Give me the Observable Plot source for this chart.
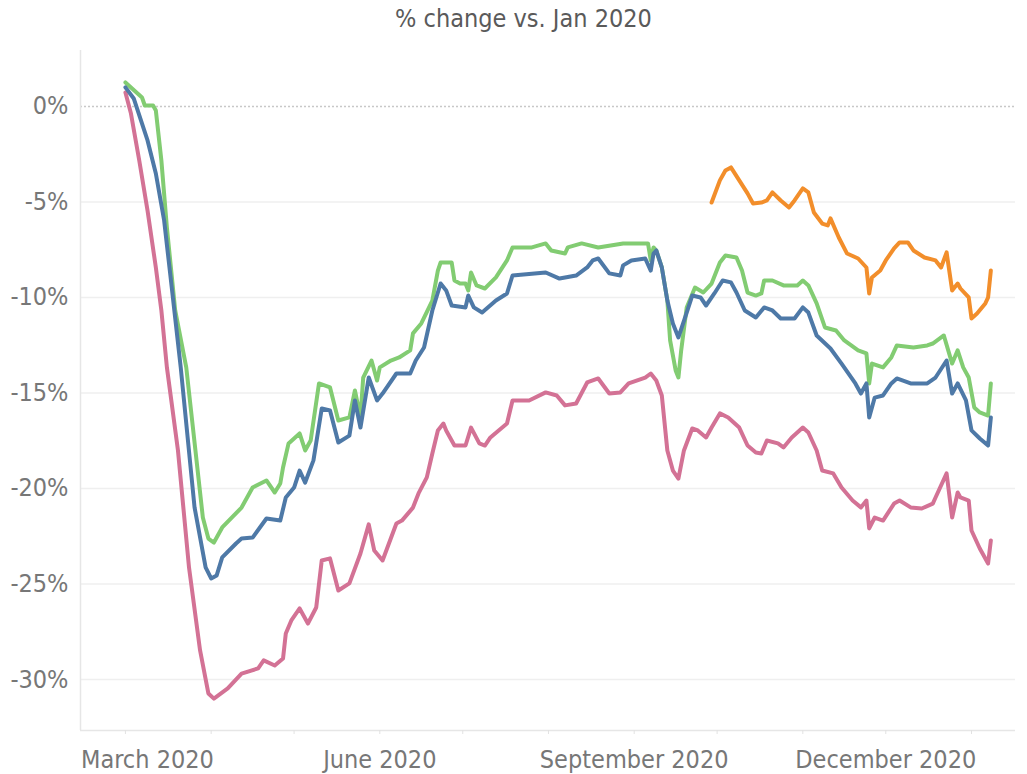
<!DOCTYPE html>
<html>
<head>
<meta charset="utf-8">
<script src="https://cdn.jsdelivr.net/npm/d3@7"></script>
<script src="https://cdn.jsdelivr.net/npm/@observablehq/plot@0.6"></script>
<style>
  html, body { margin: 0; padding: 0; background: #fff; }
  body { font-family: "DejaVu Sans Condensed", "DejaVu Sans", sans-serif; font-stretch: condensed; }
  #title { height: 40px; line-height: 38px; text-align: center; font-size: 25px; color: #5a5a5a; padding-left: 20px; box-sizing: border-box; width: 1027px; }
</style>
</head>
<body>
<div id="title">% change vs. Jan 2020</div>
<div id="chart"></div>
<script>
// ---- Data ----
const seriesNames = ["Group A", "Group B", "Group C", "Group D"];
const seriesColors = ["#d37295", "#82cc72", "#4e79a7", "#f28e2b"];

const pinkDates = ["2020-03-01","2020-03-03","2020-03-06","2020-03-09","2020-03-12","2020-03-14","2020-03-16","2020-03-20","2020-03-24","2020-03-28","2020-03-31","2020-04-02","2020-04-07","2020-04-12","2020-04-18","2020-04-20","2020-04-24","2020-04-27","2020-04-28","2020-04-30","2020-05-03","2020-05-06","2020-05-09","2020-05-11","2020-05-14","2020-05-17","2020-05-21","2020-05-25","2020-05-28","2020-05-30","2020-06-02","2020-06-07","2020-06-09","2020-06-13","2020-06-15","2020-06-18","2020-06-20","2020-06-22","2020-06-24","2020-06-25","2020-06-28","2020-07-02","2020-07-04","2020-07-07","2020-07-09","2020-07-11","2020-07-14","2020-07-17","2020-07-19","2020-07-25","2020-07-31","2020-08-04","2020-08-07","2020-08-11","2020-08-15","2020-08-19","2020-08-23","2020-08-27","2020-08-30","2020-09-05","2020-09-07","2020-09-09","2020-09-11","2020-09-13","2020-09-15","2020-09-17","2020-09-19","2020-09-22","2020-09-24","2020-09-27","2020-09-29","2020-10-02","2020-10-05","2020-10-09","2020-10-12","2020-10-15","2020-10-17","2020-10-19","2020-10-23","2020-10-25","2020-10-28","2020-10-30","2020-11-01","2020-11-03","2020-11-06","2020-11-08","2020-11-12","2020-11-15","2020-11-19","2020-11-22","2020-11-24","2020-11-25","2020-11-27","2020-11-30","2020-12-04","2020-12-06","2020-12-10","2020-12-14","2020-12-18","2020-12-19","2020-12-23","2020-12-25","2020-12-27","2020-12-28","2020-12-31","2021-01-01","2021-01-04","2021-01-07","2021-01-08"];
const pinkValues = [0.73,-0.37,-2.83,-5.45,-8.43,-10.68,-13.66,-18.01,-24.14,-28.48,-30.73,-31.0,-30.47,-29.69,-29.42,-29.0,-29.27,-28.9,-27.59,-26.91,-26.28,-27.07,-26.23,-23.77,-23.66,-25.34,-24.97,-23.4,-21.88,-23.25,-23.77,-21.83,-21.68,-21.0,-20.26,-19.42,-18.17,-16.96,-16.6,-16.96,-17.75,-17.75,-16.81,-17.64,-17.75,-17.33,-16.96,-16.6,-15.39,-15.39,-14.97,-15.13,-15.65,-15.55,-14.45,-14.24,-15.03,-14.97,-14.5,-14.19,-13.98,-14.35,-15.13,-18.01,-19.06,-19.48,-18.01,-16.86,-16.96,-17.33,-16.81,-16.07,-16.28,-16.81,-17.75,-18.12,-18.17,-17.49,-17.64,-17.85,-17.33,-17.07,-16.81,-17.07,-18.01,-19.06,-19.21,-19.95,-20.63,-20.99,-20.63,-22.09,-21.52,-21.68,-20.79,-20.63,-20.99,-21.05,-20.79,-20.47,-19.21,-21.52,-20.21,-20.47,-20.63,-22.2,-23.14,-23.93,-22.72];

const greenDates = ["2020-03-01","2020-03-07","2020-03-08","2020-03-11","2020-03-12","2020-03-14","2020-03-16","2020-03-19","2020-03-23","2020-03-29","2020-03-31","2020-04-02","2020-04-05","2020-04-12","2020-04-16","2020-04-21","2020-04-24","2020-04-26","2020-04-27","2020-04-29","2020-05-03","2020-05-05","2020-05-07","2020-05-10","2020-05-14","2020-05-17","2020-05-21","2020-05-23","2020-05-25","2020-05-26","2020-05-29","2020-05-31","2020-06-01","2020-06-05","2020-06-08","2020-06-12","2020-06-13","2020-06-16","2020-06-20","2020-06-22","2020-06-23","2020-06-27","2020-06-28","2020-06-30","2020-07-02","2020-07-03","2020-07-04","2020-07-06","2020-07-09","2020-07-13","2020-07-17","2020-07-19","2020-07-26","2020-07-31","2020-08-02","2020-08-07","2020-08-08","2020-08-13","2020-08-19","2020-08-28","2020-09-06","2020-09-07","2020-09-08","2020-09-09","2020-09-11","2020-09-13","2020-09-14","2020-09-16","2020-09-17","2020-09-18","2020-09-20","2020-09-23","2020-09-26","2020-09-29","2020-10-02","2020-10-04","2020-10-08","2020-10-10","2020-10-12","2020-10-15","2020-10-17","2020-10-18","2020-10-21","2020-10-25","2020-10-30","2020-11-01","2020-11-03","2020-11-06","2020-11-09","2020-11-13","2020-11-16","2020-11-21","2020-11-24","2020-11-25","2020-11-26","2020-11-30","2020-12-03","2020-12-05","2020-12-11","2020-12-16","2020-12-18","2020-12-22","2020-12-25","2020-12-27","2020-12-29","2020-12-31","2021-01-02","2021-01-04","2021-01-07","2021-01-08"];
const greenValues = [1.26,0.47,0.05,0.05,-0.21,-2.83,-6.34,-10.68,-13.66,-21.52,-22.62,-22.83,-22.04,-21.0,-19.95,-19.58,-20.21,-19.74,-18.9,-17.64,-17.12,-18.01,-17.49,-14.5,-14.71,-16.44,-16.28,-14.87,-16.28,-14.19,-13.3,-14.35,-13.66,-13.3,-13.14,-12.77,-11.88,-11.36,-10.16,-8.59,-8.17,-8.17,-9.11,-9.27,-9.27,-9.63,-8.69,-9.37,-9.53,-8.95,-8.06,-7.38,-7.38,-7.17,-7.54,-7.7,-7.38,-7.17,-7.38,-7.17,-7.17,-8.06,-7.38,-7.54,-8.43,-10.16,-12.25,-13.82,-14.19,-12.77,-10.52,-9.48,-9.74,-9.27,-8.17,-7.8,-7.91,-8.59,-9.74,-9.9,-9.79,-9.11,-9.11,-9.37,-9.37,-9.11,-9.37,-10.31,-11.57,-11.73,-12.25,-12.77,-12.93,-14.5,-13.46,-13.66,-13.14,-12.51,-12.62,-12.51,-12.41,-11.99,-13.46,-12.77,-13.66,-14.19,-15.76,-16.02,-16.18,-14.5];

const blueDates = ["2020-03-01","2020-03-04","2020-03-09","2020-03-12","2020-03-15","2020-03-18","2020-03-21","2020-03-26","2020-03-30","2020-04-01","2020-04-03","2020-04-05","2020-04-10","2020-04-12","2020-04-16","2020-04-21","2020-04-26","2020-04-28","2020-05-01","2020-05-03","2020-05-05","2020-05-08","2020-05-11","2020-05-14","2020-05-17","2020-05-21","2020-05-23","2020-05-25","2020-05-28","2020-05-31","2020-06-02","2020-06-07","2020-06-12","2020-06-14","2020-06-17","2020-06-20","2020-06-23","2020-06-25","2020-06-27","2020-07-02","2020-07-03","2020-07-05","2020-07-08","2020-07-13","2020-07-17","2020-07-19","2020-07-31","2020-08-05","2020-08-11","2020-08-15","2020-08-17","2020-08-19","2020-08-23","2020-08-27","2020-08-28","2020-08-31","2020-09-05","2020-09-07","2020-09-08","2020-09-09","2020-09-11","2020-09-13","2020-09-15","2020-09-17","2020-09-20","2020-09-22","2020-09-25","2020-09-27","2020-09-30","2020-10-03","2020-10-06","2020-10-08","2020-10-11","2020-10-15","2020-10-18","2020-10-21","2020-10-24","2020-10-29","2020-11-01","2020-11-03","2020-11-06","2020-11-11","2020-11-15","2020-11-20","2020-11-22","2020-11-24","2020-11-25","2020-11-27","2020-11-30","2020-12-03","2020-12-05","2020-12-10","2020-12-16","2020-12-19","2020-12-23","2020-12-25","2020-12-27","2020-12-30","2021-01-01","2021-01-04","2021-01-07","2021-01-08"];
const blueValues = [1.0,0.42,-1.78,-3.51,-5.97,-9.79,-13.66,-20.99,-24.13,-24.71,-24.55,-23.61,-22.88,-22.62,-22.57,-21.57,-21.68,-20.47,-19.95,-19.06,-19.69,-18.53,-15.81,-15.92,-17.59,-17.23,-15.39,-16.81,-14.19,-15.39,-15.03,-13.98,-13.98,-13.3,-12.62,-10.68,-9.27,-9.63,-10.42,-10.52,-9.9,-10.52,-10.79,-10.16,-9.79,-8.85,-8.69,-9.01,-8.85,-8.43,-8.06,-7.96,-8.74,-8.85,-8.32,-8.06,-7.96,-8.59,-7.7,-7.54,-8.43,-10.16,-11.36,-12.09,-10.79,-9.9,-10.0,-10.42,-9.79,-9.11,-9.21,-9.74,-10.68,-11.05,-10.52,-10.68,-11.1,-11.1,-10.52,-10.79,-11.99,-12.67,-13.46,-14.5,-15.03,-14.5,-16.28,-15.24,-15.13,-14.5,-14.24,-14.5,-14.5,-14.19,-13.3,-15.03,-14.5,-15.39,-16.96,-17.38,-17.75,-16.28];

const orangeDates = ["2020-09-29","2020-10-02","2020-10-04","2020-10-06","2020-10-09","2020-10-12","2020-10-14","2020-10-17","2020-10-19","2020-10-21","2020-10-24","2020-10-27","2020-10-29","2020-11-01","2020-11-03","2020-11-05","2020-11-08","2020-11-10","2020-11-11","2020-11-14","2020-11-17","2020-11-21","2020-11-24","2020-11-25","2020-11-26","2020-11-29","2020-12-01","2020-12-04","2020-12-06","2020-12-09","2020-12-11","2020-12-15","2020-12-19","2020-12-21","2020-12-23","2020-12-25","2020-12-27","2020-12-28","2020-12-31","2021-01-01","2021-01-03","2021-01-06","2021-01-07","2021-01-08"];
const orangeValues = [-5.03,-3.87,-3.35,-3.19,-3.87,-4.55,-5.08,-5.03,-4.92,-4.5,-4.92,-5.29,-4.92,-4.29,-4.5,-5.55,-6.13,-6.23,-5.86,-6.86,-7.7,-7.96,-8.43,-9.79,-8.95,-8.59,-8.06,-7.43,-7.12,-7.12,-7.54,-7.91,-8.06,-8.43,-7.64,-9.63,-9.27,-9.53,-10.0,-11.1,-10.84,-10.31,-10.0,-8.59];

const yTicks = [0, -5, -10, -15, -20, -25, -30];
const monthTicks = ["2020-03-01","2020-04-01","2020-05-01","2020-06-01","2020-07-01","2020-08-01","2020-09-01","2020-10-01","2020-11-01","2020-12-01","2021-01-01"];
const labelTicks = ["2020-03-01","2020-06-01","2020-09-01","2020-12-01"];
const xDomain = ["2020-02-13T18:00:00Z", "2021-01-16T22:00:00Z"];
const yDomain = [-32.67, 2.93];

// ---- Build table ----
const allDates = [pinkDates, greenDates, blueDates, orangeDates];
const allValues = [pinkValues, greenValues, blueValues, orangeValues];
const rows = [];
allDates.forEach((ds, i) => ds.forEach((d, j) => rows.push({series: seriesNames[i], date: new Date(d), value: allValues[i][j]})));

const font = '"DejaVu Sans Condensed", "DejaVu Sans", sans-serif';
const fmt = d3.utcFormat("%B %Y");

const chart = Plot.plot({
  width: 1027,
  height: 734,
  marginLeft: 80,
  marginRight: 12,
  marginTop: 10,
  marginBottom: 44,
  x: {type: "utc", domain: xDomain.map(d => new Date(d)), label: null},
  y: {domain: yDomain, label: null},
  color: {domain: seriesNames, range: seriesColors},
  style: {fontFamily: font, fontSize: "25px", color: "#777", background: "#fff", overflow: "visible"},
  marks: [
    Plot.ruleY(yTicks.filter(d => d !== 0), {stroke: "#efefef", strokeWidth: 1.5}),
    Plot.ruleY([0], {stroke: "#c8c8c8", strokeWidth: 1.5, strokeDasharray: "2,2"}),
    Plot.ruleX([new Date(xDomain[0])], {stroke: "#e6e6e6", strokeWidth: 1.5}),
    Plot.ruleY([yDomain[0]], {stroke: "#e6e6e6", strokeWidth: 1.5}),
    Plot.axisY({ticks: yTicks, tickSize: 0, tickPadding: 12, tickFormat: d => `${d}%`, fill: "#777", fontSize: 25, label: null}),
    Plot.axisX({ticks: monthTicks.map(d => new Date(d)), tickSize: 4, stroke: "#e2e2e2", tickFormat: () => "", label: null}),
    Plot.axisX({ticks: labelTicks.slice(1).map(d => new Date(d)), tickSize: 0, tickPadding: 20, tickFormat: fmt, fill: "#777", fontSize: 25, label: null}),
    Plot.axisX({ticks: labelTicks.slice(0, 1).map(d => new Date(d)), tickSize: 0, tickPadding: 20, tickFormat: fmt, fill: "#777", fontSize: 25, dx: 22, label: null}),
    Plot.line(rows, {x: "date", y: "value", z: "series", stroke: "series", strokeWidth: 4, strokeLinejoin: "round", strokeLinecap: "round"})
  ]
});
document.getElementById("chart").appendChild(chart);
</script>
</body>
</html>
